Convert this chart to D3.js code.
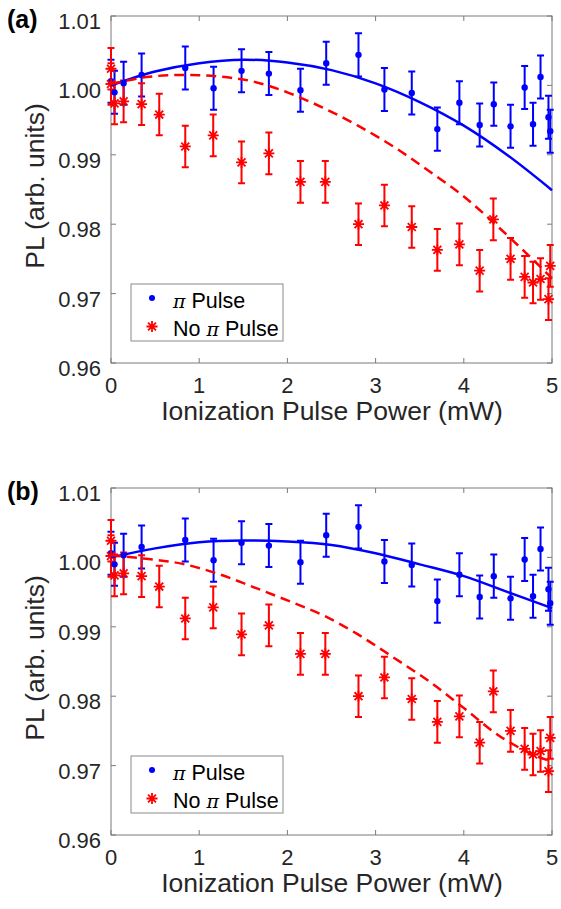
<!DOCTYPE html>
<html>
<head>
<meta charset="utf-8">
<script src="https://cdn.jsdelivr.net/npm/d3@7"></script>
<style>
  body { margin: 0; background: #fff; }
  svg { display: block; font-family: "Liberation Sans", Arial, sans-serif; }
</style>
</head>
<body>
<div id="chart"></div>
<script>
// measured points, same in both panels
const powerBlue = [0, 0.04, 0.143, 0.347, 0.842, 1.163, 1.48, 1.79, 2.148, 2.44, 2.806, 3.10, 3.41, 3.70, 3.95, 4.18, 4.34, 4.53, 4.69, 4.785, 4.87, 4.96, 4.98]
const plBlue = [1.0006, 0.9990, 1.0003, 1.0015, 1.0025, 0.9996, 1.0021, 1.0017, 0.9993, 1.0032, 1.0044, 0.9994, 0.9989, 0.9937, 0.9975, 0.9943, 0.9973, 0.9941, 0.9997, 0.9944, 1.0012, 0.9954, 0.9934]
const errBlue = 0.0031

const powerRed = [0, 0, 0.04, 0.143, 0.347, 0.547, 0.842, 1.159, 1.48, 1.79, 2.148, 2.43, 2.806, 3.10, 3.41, 3.70, 3.95, 4.18, 4.335, 4.53, 4.69, 4.785, 4.87, 4.96, 4.98]
const plRed = [1.0024, 1.0002, 0.9974, 0.9977, 0.9973, 0.9958, 0.9912, 0.9928, 0.9889, 0.9902, 0.9861, 0.9861, 0.9800, 0.9827, 0.9796, 0.9763, 0.9771, 0.9733, 0.9807, 0.9750, 0.9724, 0.9716, 0.9721, 0.9692, 0.9740]
const errRed = 0.003

// fit curves
const fitBlueX = [0, 0.5, 1, 1.5, 2, 2.5, 3, 3.5, 4, 4.5, 5]
const fitBlueA = [1.0000, 1.0020, 1.0032, 1.0037, 1.0033, 1.0022, 1.0003, 0.9976, 0.9942, 0.9899, 0.9849]
const fitBlueB = [1.0000, 1.0013, 1.0022, 1.00245, 1.0023, 1.0018, 1.0006, 0.9990, 0.9973, 0.9950, 0.9927]
const fitRedX = [0, 0.4, 0.8, 1.2, 1.6, 2.0, 2.4, 2.8, 3.2, 3.6, 4.0, 4.4, 4.8, 5.0]
const fitRedA = [1.0002, 1.0012, 1.0015, 1.0013, 1.0006, 0.9990, 0.9968, 0.9942, 0.9912, 0.9877, 0.9840, 0.9795, 0.9747, 0.9722]
const fitRedB = [1.0003, 0.9998, 0.9991, 0.9977, 0.9958, 0.9938, 0.9917, 0.9889, 0.9856, 0.9822, 0.9783, 0.9743, 0.9715, 0.9706]

const xTicks = [0, 1, 2, 3, 4, 5]
const yTicks = [0.96, 0.97, 0.98, 0.99, 1.00, 1.01]

const W = 561, H = 909
const left = 111, right = 552, plotH = 347

const svg = d3.select("#chart").append("svg")
  .attr("width", W)
  .attr("height", H)
  .style("background", "#fff")

const x = d3.scaleLinear().domain([0, 5]).range([left, right])

const panels = [
  { label: "(a)", top: 16, blue: fitBlueA, red: fitRedA },
  { label: "(b)", top: 488, blue: fitBlueB, red: fitRedB }
]

panels.forEach(p => drawPanel(p))

function drawPanel(p) {
  const y = d3.scaleLinear().domain([0.96, 1.01]).range([p.top + plotH, p.top])
  const g = svg.append("g")
  const axisCol = "#7a7a7a", textCol = "#262626"

  // box + ticks
  g.append("rect")
    .attr("x", left).attr("y", p.top)
    .attr("width", right - left).attr("height", plotH)
    .attr("fill", "none").attr("stroke", axisCol).attr("stroke-width", 1)

  xTicks.forEach(t => {
    g.append("line").attr("x1", x(t)).attr("x2", x(t))
      .attr("y1", p.top + plotH).attr("y2", p.top + plotH - 5).attr("stroke", axisCol)
    g.append("line").attr("x1", x(t)).attr("x2", x(t))
      .attr("y1", p.top).attr("y2", p.top + 5).attr("stroke", axisCol)
    g.append("text")
      .attr("x", x(t)).attr("y", p.top + plotH + 29.5)
      .attr("text-anchor", "middle")
      .attr("font-size", 22).attr("fill", textCol)
      .text(d3.format("d")(t))
  })
  yTicks.forEach(t => {
    g.append("line").attr("x1", left).attr("x2", left + 5)
      .attr("y1", y(t)).attr("y2", y(t)).attr("stroke", axisCol)
    g.append("line").attr("x1", right).attr("x2", right - 5)
      .attr("y1", y(t)).attr("y2", y(t)).attr("stroke", axisCol)
    g.append("text")
      .attr("x", 101).attr("y", y(t) + 13)
      .attr("text-anchor", "end")
      .attr("font-size", 22).attr("fill", textCol)
      .text(d3.format(".2f")(t))
  })

  g.append("text")
    .attr("x", (left + right) / 2 + 0.5).attr("y", p.top + plotH + 57)
    .attr("text-anchor", "middle")
    .attr("font-size", 26.5).attr("fill", textCol)
    .text("Ionization Pulse Power (mW)")

  g.append("text")
    .attr("transform", `translate(44, ${p.top + 170}) rotate(-90)`)
    .attr("text-anchor", "middle")
    .attr("font-size", 26.5).attr("fill", textCol)
    .text("PL (arb. units)")

  g.append("text")
    .attr("x", 7).attr("y", p.top + 12)
    .attr("font-size", 25).attr("font-weight", "bold").attr("fill", "#000")
    .text(p.label)

  // error bars
  const blueData = powerBlue.map((v, i) => [v, plBlue[i]])
  const redData = powerRed.map((v, i) => [v, plRed[i]])

  errorBars(g, blueData, errBlue, y, "#0000ff")
  errorBars(g, redData, errRed, y, "#ff0000")

  g.selectAll(".dot").data(blueData).join("circle")
    .attr("cx", d => x(d[0])).attr("cy", d => y(d[1]))
    .attr("r", 3.2).attr("fill", "#0000ff")

  g.selectAll(".star").data(redData).join("path")
    .attr("transform", d => `translate(${x(d[0])},${y(d[1])})`)
    .attr("d", star(5.5))
    .attr("fill", "none").attr("stroke", "#ff0000").attr("stroke-width", 1.8)

  // fits
  const line = d3.line().x(d => x(d[0])).y(d => y(d[1])).curve(d3.curveCatmullRom)
  g.append("path")
    .attr("d", line(fitBlueX.map((v, i) => [v, p.blue[i]])))
    .attr("fill", "none").attr("stroke", "#0000ff").attr("stroke-width", 2.5)
  g.append("path")
    .attr("d", line(fitRedX.map((v, i) => [v, p.red[i]])))
    .attr("fill", "none").attr("stroke", "#ff0000").attr("stroke-width", 2.5)
    .attr("stroke-dasharray", "10,6")

  // legend
  const lx = 131, ly = p.top + 268
  const lg = g.append("g")
  lg.append("rect")
    .attr("x", lx).attr("y", ly).attr("width", 152).attr("height", 57)
    .attr("fill", "#fff").attr("stroke", "#8a8a8a").attr("stroke-width", 1)
  lg.append("circle").attr("cx", lx + 21).attr("cy", ly + 14).attr("r", 3).attr("fill", "#0000ff")
  lg.append("path")
    .attr("transform", `translate(${lx + 21},${ly + 42.5})`)
    .attr("d", star(5.5))
    .attr("fill", "none").attr("stroke", "#ff0000").attr("stroke-width", 1.8)

  const t1 = lg.append("text").attr("x", lx + 42).attr("y", ly + 24)
    .attr("font-size", 21.5).attr("fill", "#000")
  t1.append("tspan").attr("font-family", "'DejaVu Serif', serif").attr("font-style", "italic").attr("font-size", 19).text("π")
  t1.append("tspan").text(" Pulse")
  const t2 = lg.append("text").attr("x", lx + 42).attr("y", ly + 51.5)
    .attr("font-size", 21.5).attr("fill", "#000")
  t2.append("tspan").text("No ")
  t2.append("tspan").attr("font-family", "'DejaVu Serif', serif").attr("font-style", "italic").attr("font-size", 19).text("π")
  t2.append("tspan").text(" Pulse")
}

function errorBars(g, data, err, y, col) {
  const cap = 3.5
  data.forEach(d => {
    const cx = x(d[0]), y0 = y(d[1] - err), y1 = y(d[1] + err)
    g.append("path")
      .attr("d", `M${cx},${y0}V${y1}M${cx - cap},${y0}H${cx + cap}M${cx - cap},${y1}H${cx + cap}`)
      .attr("fill", "none").attr("stroke", col).attr("stroke-width", 2)
  })
}

function star(r) {
  const a = r * 0.72
  return `M${-r},0H${r}M0,${-r}V${r}M${-a},${-a}L${a},${a}M${-a},${a}L${a},${-a}`
}
</script>
</body>
</html>
